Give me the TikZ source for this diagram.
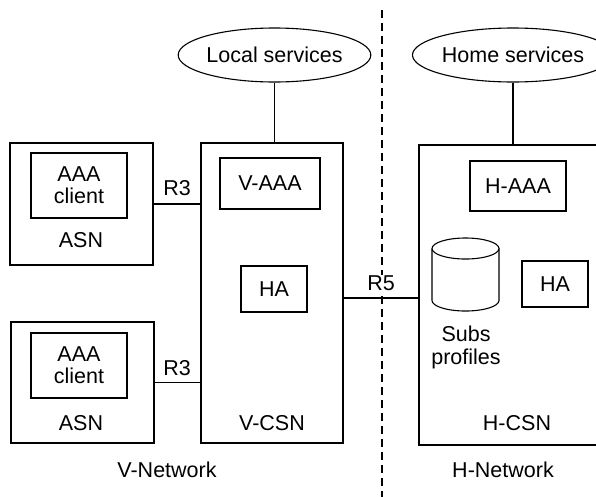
\documentclass[tikz,border=0pt]{standalone}
\usepackage{fontspec}
\setmainfont{Liberation Sans}
\usetikzlibrary{shapes.geometric}
\begin{document}
\begin{tikzpicture}[x=1pt,y=-1pt,line width=1.1pt,
  txt/.style={font=\fontsize{21.5}{27}\selectfont},
  box/.style={draw,rectangle,inner sep=0pt,txt},
  svc/.style={draw,ellipse,inner sep=0pt,txt},
  lbl/.style={inner sep=0pt,align=center,txt},
  link/.style={draw},
  divider/.style={draw,dash pattern=on 8pt off 5pt}]
\useasboundingbox (0,0) rectangle (596,496);
\clip (0,0) rectangle (596,496);
% services
\node[svc,minimum width=177pt,minimum height=54pt] (local) at (274.5,55) {Local services};
\node[svc,minimum width=180pt,minimum height=54pt] (home) at (513,55) {Home services};
% V-CSN
\node[box,minimum width=142pt,minimum height=300pt] (vcsn) at (272,293) {};
\node[box,minimum width=100pt,minimum height=51pt] (vaaa) at (270,183.5) {V-AAA};
\node[box,minimum width=66pt,minimum height=46pt] (vha) at (274,289) {HA};
\node[lbl] (vcsnl) at (272,423) {V-CSN};
% ASNs
\node[box,minimum width=143pt,minimum height=122pt] (asna) at (81.5,204) {};
\node[box,minimum width=96pt,minimum height=65pt,align=center] (aaaa) at (79,185.5) {AAA\\[-5pt]client};
\node[lbl] (asnal) at (81,240) {ASN};
\node[box,minimum width=143pt,minimum height=121pt] (asnb) at (82.5,382.5) {};
\node[box,minimum width=96pt,minimum height=65pt,align=center] (aaab) at (79,365.5) {AAA\\[-5pt]client};
\node[lbl] (asnbl) at (81,423) {ASN};
% H-CSN
\node[box,minimum width=220pt,minimum height=300pt] (hcsn) at (529,295) {};
\node[box,minimum width=96pt,minimum height=50pt] (haaa) at (518,186) {H-AAA};
\node[box,minimum width=66pt,minimum height=46pt] (hha) at (555,284) {HA};
\node[lbl] (hcsnl) at (517,423) {H-CSN};
% subscriber profiles database
\coordinate (cyl) at (465.5,248.5);
\draw (cyl) ellipse [x radius=33.5, y radius=10.5];
\draw (cyl) ++(-33.5,0) -- ++(0,52) arc[start angle=180,end angle=0,x radius=33.5,y radius=10.5] -- ++(0,-52);
\node[lbl] (subs) at (466,347) {Subs\\[-4pt]profiles};
% network labels
\node[lbl] (vnet) at (167,470) {V-Network};
\node[lbl] (hnet) at (503,470) {H-Network};
% divider
\coordinate (dtop) at (382,10);
\coordinate (dbot) at (382,500);
\draw[divider] (dtop) -- (dbot);
% connectors
\draw[link] (local.south) -- (local.south |- vcsn.north);
\draw[link] (home.south) -- (home.south |- hcsn.north);
\draw[link] (asna.east) -- (asna.east -| vcsn.west);
\draw[link] (asnb.east) -- (asnb.east -| vcsn.west);
\draw[link] ([yshift=-5pt]vcsn.east) -- ([yshift=-5pt]vcsn.east -| hcsn.west);
\node[lbl] (r3a) at (177,188) {R3};
\node[lbl] (r3b) at (177,368) {R3};
\node[lbl,fill=white,inner sep=1pt] (r5) at (381,283) {R5};
\end{tikzpicture}
\end{document}
